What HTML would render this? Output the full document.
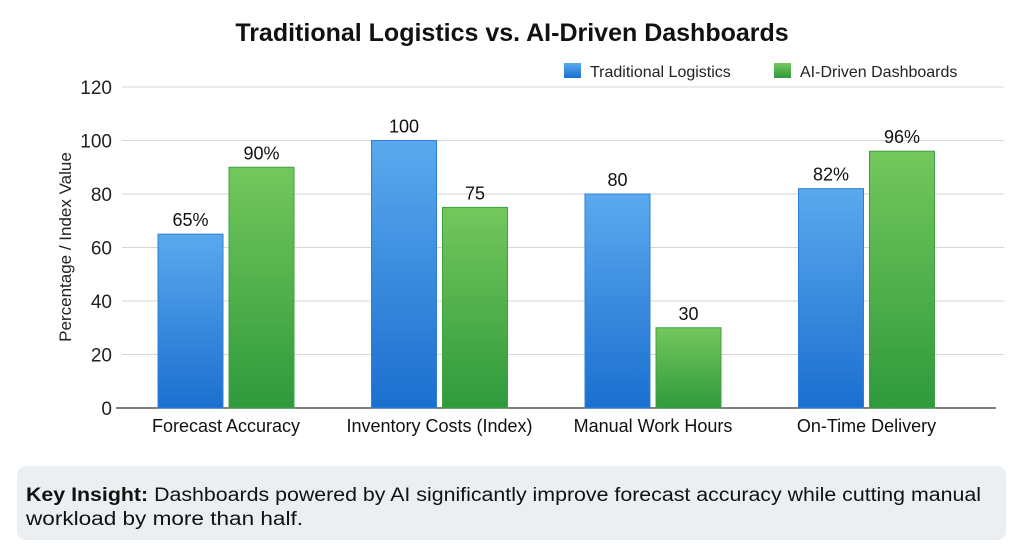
<!DOCTYPE html>
<html><head><meta charset="utf-8"><style>
html,body{margin:0;padding:0;background:#fff;width:1024px;height:557px;overflow:hidden;font-family:"Liberation Sans",sans-serif;}
svg{display:block}
</style></head><body>
<svg id="chart" width="1024" height="557" xmlns="http://www.w3.org/2000/svg">
<defs>
<linearGradient id="gb" x1="0" y1="0" x2="0" y2="1"><stop offset="0" stop-color="#5aa9ee"/><stop offset="1" stop-color="#1b6fcf"/></linearGradient>
<linearGradient id="gg" x1="0" y1="0" x2="0" y2="1"><stop offset="0" stop-color="#74c75c"/><stop offset="1" stop-color="#2f9a3c"/></linearGradient>
</defs>
<text x="512" y="41" text-anchor="middle" font-size="25" font-weight="bold" fill="#111">Traditional Logistics vs. AI-Driven Dashboards</text>
<g>
<rect x="564" y="63" width="17" height="15" fill="url(#gb)"/>
<text x="590" y="77" font-size="16" fill="#222">Traditional Logistics</text>
<rect x="774" y="63" width="17" height="15" fill="url(#gg)"/>
<text x="800" y="77" font-size="16" fill="#222">AI-Driven Dashboards</text>
</g>
<text transform="translate(71,247) rotate(-90)" text-anchor="middle" font-size="17" fill="#222">Percentage / Index Value</text>
<g id="grid"></g><g id="bars"></g>
<rect x="17" y="466" width="989" height="74" rx="9" fill="#eceff1"/>
<text x="26" y="501" font-size="19" fill="#111" textLength="955" lengthAdjust="spacingAndGlyphs"><tspan font-weight="bold">Key Insight:</tspan> Dashboards powered by AI significantly improve forecast accuracy while cutting manual</text>
<text x="26" y="525" font-size="19" fill="#111" textLength="277" lengthAdjust="spacingAndGlyphs">workload by more than half.</text>
</svg>
<script>
const categories=["Forecast Accuracy","Inventory Costs (Index)","Manual Work Hours","On-Time Delivery"];
const traditional=[65,100,80,82];
const aiDriven=[90,75,30,96];
const tradLabels=["65%","100","80","82%"];
const aiLabels=["90%","75","30","96%"];
const yTicks=[0,20,40,60,80,100,120];
const NS="http://www.w3.org/2000/svg";
const x0=122,x1=1004,y0=408,yTop=87,yMax=120;
const y=v=>y0-(v/yMax)*(y0-yTop);
const step=213.5, first=226;
const cx=i=>first+i*step;
function mk(t,a,p){const e=document.createElementNS(NS,t);for(const k in a)e.setAttribute(k,a[k]);p.appendChild(e);return e;}
const grid=document.getElementById('grid'),bars=document.getElementById('bars');
yTicks.forEach(v=>{
 if(v>0){const l=mk('line',{x1:x0,x2:x1,y1:y(v),y2:y(v),stroke:'#d6d6d6','stroke-width':1},grid);
 
 }
 const t=mk('text',{x:112,y:y(v)+7,'text-anchor':'end','font-size':19,fill:'#222'},grid);t.textContent=v;
 
 
});
const ax=mk('line',{x1:x0-6,x2:996,y1:y0,y2:y0,stroke:'#555','stroke-width':1.5},grid);


categories.forEach((c,i)=>{
 [[traditional,tradLabels,'url(#gb)','#2f7fd6',-68,'traditional'],[aiDriven,aiLabels,'url(#gg)','#3ea044',3,'ai']].forEach(([vals,labs,f,s,off,nm])=>{
  const bx=cx(i)+off;
  const r=mk('rect',{x:bx,y:y(vals[i]),width:65,height:y0-y(vals[i]),fill:f,stroke:s,'stroke-width':1},bars);
  
  
  const t=mk('text',{x:bx+32.5,y:y(vals[i])-8,'text-anchor':'middle','font-size':18,fill:'#111'},bars);t.textContent=labs[i];
  
  
 });
 const t=mk('text',{x:cx(i),y:432,'text-anchor':'middle','font-size':18,fill:'#111'},bars);t.textContent=c;
 
 
});
</script>
</body></html>
